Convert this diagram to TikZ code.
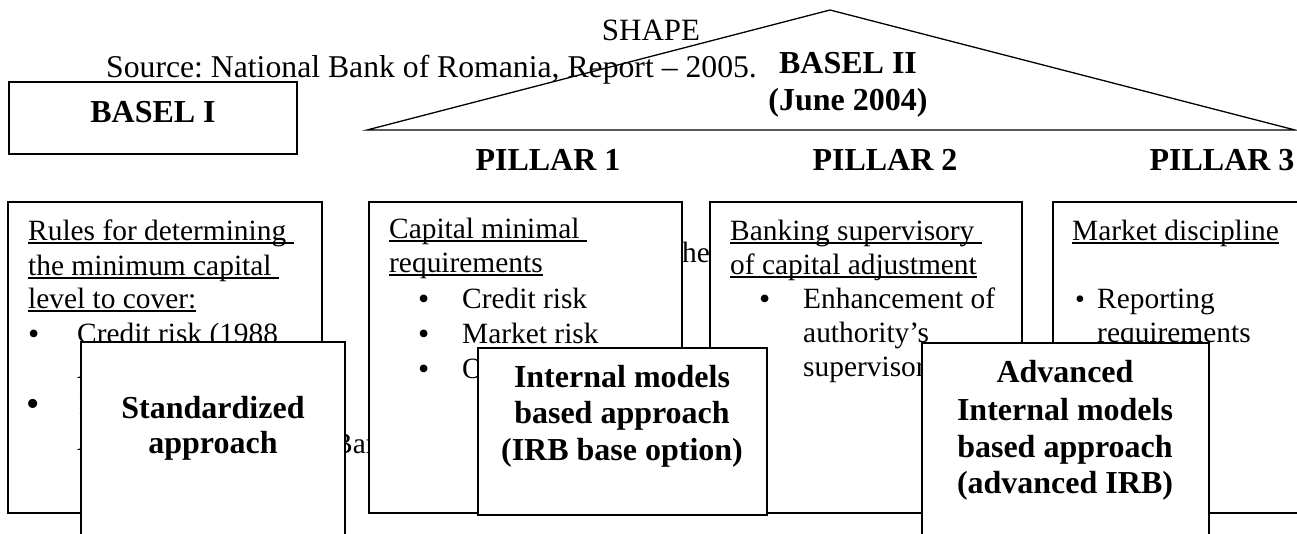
\documentclass[tikz,border=0pt]{standalone}
\usepackage{fontspec}
\setmainfont{Liberation Serif}
\frenchspacing
\newcommand\myul[1]{\setbox0\hbox{#1}\rlap{\rule[-3.5pt]{\wd0}{1.1pt}}\box0}
\begin{document}
\begin{tikzpicture}[x=1pt,y=-1pt,
  frame/.style={draw, line width=1.2pt, fill=white, inner sep=0pt, outer sep=0pt, anchor=north west},
  txt/.style={anchor=base west, inner sep=0pt, font=\fontsize{29.4}{34}\selectfont},
  bul/.style={anchor=base west, inner sep=0pt, font=\fontsize{32}{36}\selectfont},
  smallbul/.style={anchor=base west, inner sep=0pt, font=\fontsize{28}{32}\selectfont},
  bigbul/.style={anchor=base west, inner sep=0pt, font=\fontsize{38}{42}\selectfont},
  head/.style={anchor=base, inner sep=0pt, font=\fontsize{32}{38}\selectfont\bfseries},
  ttl/.style={anchor=base, inner sep=0pt, font=\fontsize{31}{36}\selectfont},
  appr/.style={anchor=base, inner sep=0pt, font=\fontsize{32}{38}\selectfont\bfseries}]
\useasboundingbox (0,0) rectangle (1297,533);

% header texts
\node[ttl] (shape) at (651,40) {SHAPE};
\node[ttl, anchor=base west, font=\fontsize{31.7}{36}\selectfont] (source) at (106,77) {Source: National Bank of Romania, Report – 2005.};
\node[head] (b2a) at (848,73) {BASEL II};
\node[head] (b2b) at (848,110) {(June 2004)};

% roof
\coordinate (rl) at (367,130);
\coordinate (rt) at (830,10);
\coordinate (rr) at (1295,130);
\draw[line width=1.3pt] (rl) -- (rt) -- (rr) -- cycle;

% Basel I box
\node[frame, minimum width=288pt, minimum height=72pt] (basel1) at (9,82) {};
\node[head] (basel1t) at (153,122) {BASEL I};

% pillars
\node[head] (p1) at (548,170) {PILLAR 1};
\node[head] (p2) at (885,170) {PILLAR 2};
\node[head] (p3) at (1222,170) {PILLAR 3};

% background text fragments
\node[txt] (bgthe) at (664,262) {The};
\node[txt] (bgbank) at (333,453) {Bank};

% box 1
\node[frame, minimum width=314pt, minimum height=311pt] (box1) at (8,202) {};
\node[txt] (r1) at (28,240) {\myul{Rules for determining\ }};
\node[txt] (r2) at (28,275) {\myul{the minimum capital\ }};
\node[txt] (r3) at (28,308) {\myul{level to cover:}};
\node[bul] (r4b) at (28,344) {•};
\node[txt] (r4) at (77,343) {Credit risk (1988};
\node[txt] (r5) at (77,378) {Accord)};
\node[bigbul] (r6b) at (26,416) {•};
\node[txt] (r6) at (79,414) {Market risk (1996};
\node[txt] (r7) at (77,450) {Amendment)};

% box 2
\node[frame, minimum width=313pt, minimum height=311pt] (box2) at (369,202) {};
\node[txt] (c1) at (389,238) {\myul{Capital minimal\ }};
\node[txt] (c2) at (389,272) {\myul{requirements}};
\node[bul] (c3b) at (418,309) {•};
\node[txt] (c3) at (462,308) {Credit risk};
\node[bul] (c4b) at (418,344) {•};
\node[txt] (c4) at (462,343) {Market risk};
\node[bul] (c5b) at (418,379) {•};
\node[txt] (c5) at (462,378) {Operational risk};

% box 3
\node[frame, minimum width=312pt, minimum height=311pt] (box3) at (710,202) {};
\node[txt] (s1) at (730,240) {\myul{Banking supervisory\ }};
\node[txt] (s2) at (730,274) {\myul{of capital adjustment}};
\node[bul] (s3b) at (759,309) {•};
\node[txt] (s3) at (803,308) {Enhancement of};
\node[txt] (s4) at (803,342) {authority’s};
\node[txt] (s5) at (803,376) {supervisory role};

% box 4
\node[frame, minimum width=270pt, minimum height=311pt] (box4) at (1053,202) {};
\node[txt] (m1) at (1072,240) {\myul{Market discipline}};
\node[smallbul] (m2b) at (1075,308) {•};
\node[txt] (m2) at (1097,308) {Reporting};
\node[txt] (m3) at (1097,342) {requirements};

% approach boxes
\node[frame, minimum width=264pt, minimum height=230pt] (std) at (81,342) {};
\node[appr] (std1) at (213,418) {Standardized};
\node[appr] (std2) at (213,453) {approach};

\node[frame, minimum width=289pt, minimum height=167pt] (irb) at (478,348) {};
\node[appr] (irb1) at (622,387) {Internal models};
\node[appr] (irb2) at (622,423) {based approach};
\node[appr] (irb3) at (622,460) {(IRB base option)};

\node[frame, minimum width=287pt, minimum height=230pt] (adv) at (922,343) {};
\node[appr] (adv1) at (1065,382) {Advanced};
\node[appr] (adv2) at (1065,420) {Internal models};
\node[appr] (adv3) at (1065,457) {based approach};
\node[appr] (adv4) at (1065,493) {(advanced IRB)};
\end{tikzpicture}
\end{document}
